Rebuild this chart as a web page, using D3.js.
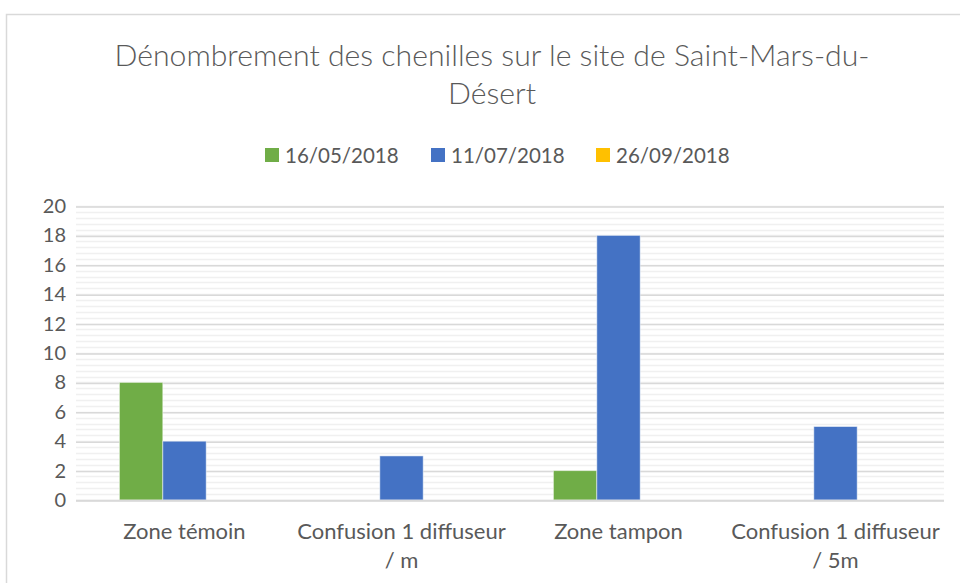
<!DOCTYPE html>
<html>
<head>
<meta charset="utf-8">
<script src="https://cdn.jsdelivr.net/npm/d3@7"></script>
<style>
  body { margin: 0; background: #fff; }
  svg text { font-family: Lato, "Open Sans", sans-serif; fill: #595959; }
</style>
</head>
<body>
<div id="chart"></div>
<script>
var categories = ["Zone témoin", "Confusion 1 diffuseur / m", "Zone tampon", "Confusion 1 diffuseur / 5m"];
var categoryLines = [["Zone témoin"], ["Confusion 1 diffuseur", "/ m"], ["Zone tampon"], ["Confusion 1 diffuseur", "/ 5m"]];
var seriesNames = ["16/05/2018", "11/07/2018", "26/09/2018"];
var serie1 = [8, 0, 2, 0];
var serie2 = [4, 3, 18, 5];
var serie3 = [0, 0, 0, 0];
var yTicks = [0, 2, 4, 6, 8, 10, 12, 14, 16, 18, 20];
var colors = ["#70AD47", "#4472C4", "#FFC000"];

var width = 960, height = 583;
var plotLeft = 76, plotRight = 944, plotTop = 206, plotBottom = 500;

var svg = d3.select("#chart").append("svg").attr("width", width).attr("height", height);

// cadre
svg.append("rect").attr("x", 6.5).attr("y", 14.5).attr("width", 1000).attr("height", 700)
   .attr("fill", "#fff").attr("stroke", "#d9d9d9").attr("stroke-width", 1.5);

var y = d3.scaleLinear().domain([0, 20]).range([plotBottom, plotTop]);
var x0 = d3.scaleBand().domain(categories).range([plotLeft, plotRight]).paddingInner(0).paddingOuter(0);
var groupPad = x0.bandwidth() / 5;
var x1 = d3.scaleBand().domain(seriesNames).range([groupPad, x0.bandwidth() - groupPad]);

// grille mineure
var minor = d3.range(0, 20.001, 0.4);
svg.append("g").selectAll("line").data(minor).enter().append("line")
   .attr("x1", plotLeft).attr("x2", plotRight)
   .attr("y1", function(d) { return Math.round(y(d)) + 0.5; })
   .attr("y2", function(d) { return Math.round(y(d)) + 0.5; })
   .attr("stroke", "#f0f0f0").attr("stroke-width", 1.5);

// grille principale
var yAxis = d3.axisLeft(y).tickValues(yTicks).tickSize(-(plotRight - plotLeft)).tickFormat(d3.format("d"));
var gy = svg.append("g").attr("transform", "translate(" + plotLeft + ",0)").call(yAxis);
gy.select(".domain").remove();
gy.selectAll(".tick line").attr("stroke", "#d9d9d9").attr("stroke-width", 1.5)
  .attr("transform", "translate(0,0.5)");
gy.selectAll(".tick text").attr("x", -10).attr("font-size", 20).style("fill", "#595959")
  .style("font-family", "Lato, 'Open Sans', sans-serif");

var table = categories.map(function(c, i) {
  return { cat: c, values: [serie1[i], serie2[i], serie3[i]] };
});

var groups = svg.append("g").selectAll("g").data(table).enter().append("g")
   .attr("transform", function(d) { return "translate(" + x0(d.cat) + ",0)"; });

groups.selectAll("rect").data(function(d) {
    return d.values.map(function(v, j) { return { name: seriesNames[j], value: v, j: j }; });
  }).enter().append("rect")
   .filter(function(d) { return d.value > 0; })
   .attr("x", function(d) { return x1(d.name); })
   .attr("width", x1.bandwidth())
   .attr("y", function(d) { return y(d.value); })
   .attr("height", function(d) { return y(0) - y(d.value); })
   .attr("fill", function(d) { return colors[d.j]; })
   .attr("stroke", "#ffffff").attr("stroke-opacity", 0.5).attr("stroke-width", 1);

// axe x (ligne de base)
svg.append("line").attr("x1", plotLeft).attr("x2", plotRight)
   .attr("y1", Math.round(y(0)) + 0.5).attr("y2", Math.round(y(0)) + 0.5)
   .attr("stroke", "#d9d9d9").attr("stroke-width", 1.5);

// étiquettes catégories
var labels = svg.append("g").selectAll("text").data(categories).enter().append("text")
   .attr("text-anchor", "middle").attr("font-size", 22)
   .attr("x", function(d) { return x0(d) + x0.bandwidth() / 2; })
   .attr("y", 539);
labels.each(function(d, i) {
  var t = d3.select(this);
  categoryLines[i].forEach(function(line, k) {
    t.append("tspan").attr("x", x0(d) + x0.bandwidth() / 2).attr("dy", k === 0 ? 0 : 29).text(line);
  });
});

// titre
var title = svg.append("text").attr("text-anchor", "middle").attr("font-size", 30.2)
   .attr("font-weight", 300).attr("x", 492);
title.append("tspan").attr("x", 492).attr("y", 66).text("Dénombrement des chenilles sur le site de Saint-Mars-du-");
title.append("tspan").attr("x", 492).attr("y", 104).text("Désert");

// légende
var legendX = [265, 431, 596];
var legend = svg.append("g").selectAll("g").data(seriesNames).enter().append("g")
   .attr("transform", function(d, i) { return "translate(" + legendX[i] + ",148)"; });
legend.append("rect").attr("width", 14).attr("height", 14)
   .attr("fill", function(d, i) { return colors[i]; });
legend.append("text").attr("x", 20).attr("y", 14.5).attr("font-size", 20.5).text(function(d) { return d; });
</script>
</body>
</html>
